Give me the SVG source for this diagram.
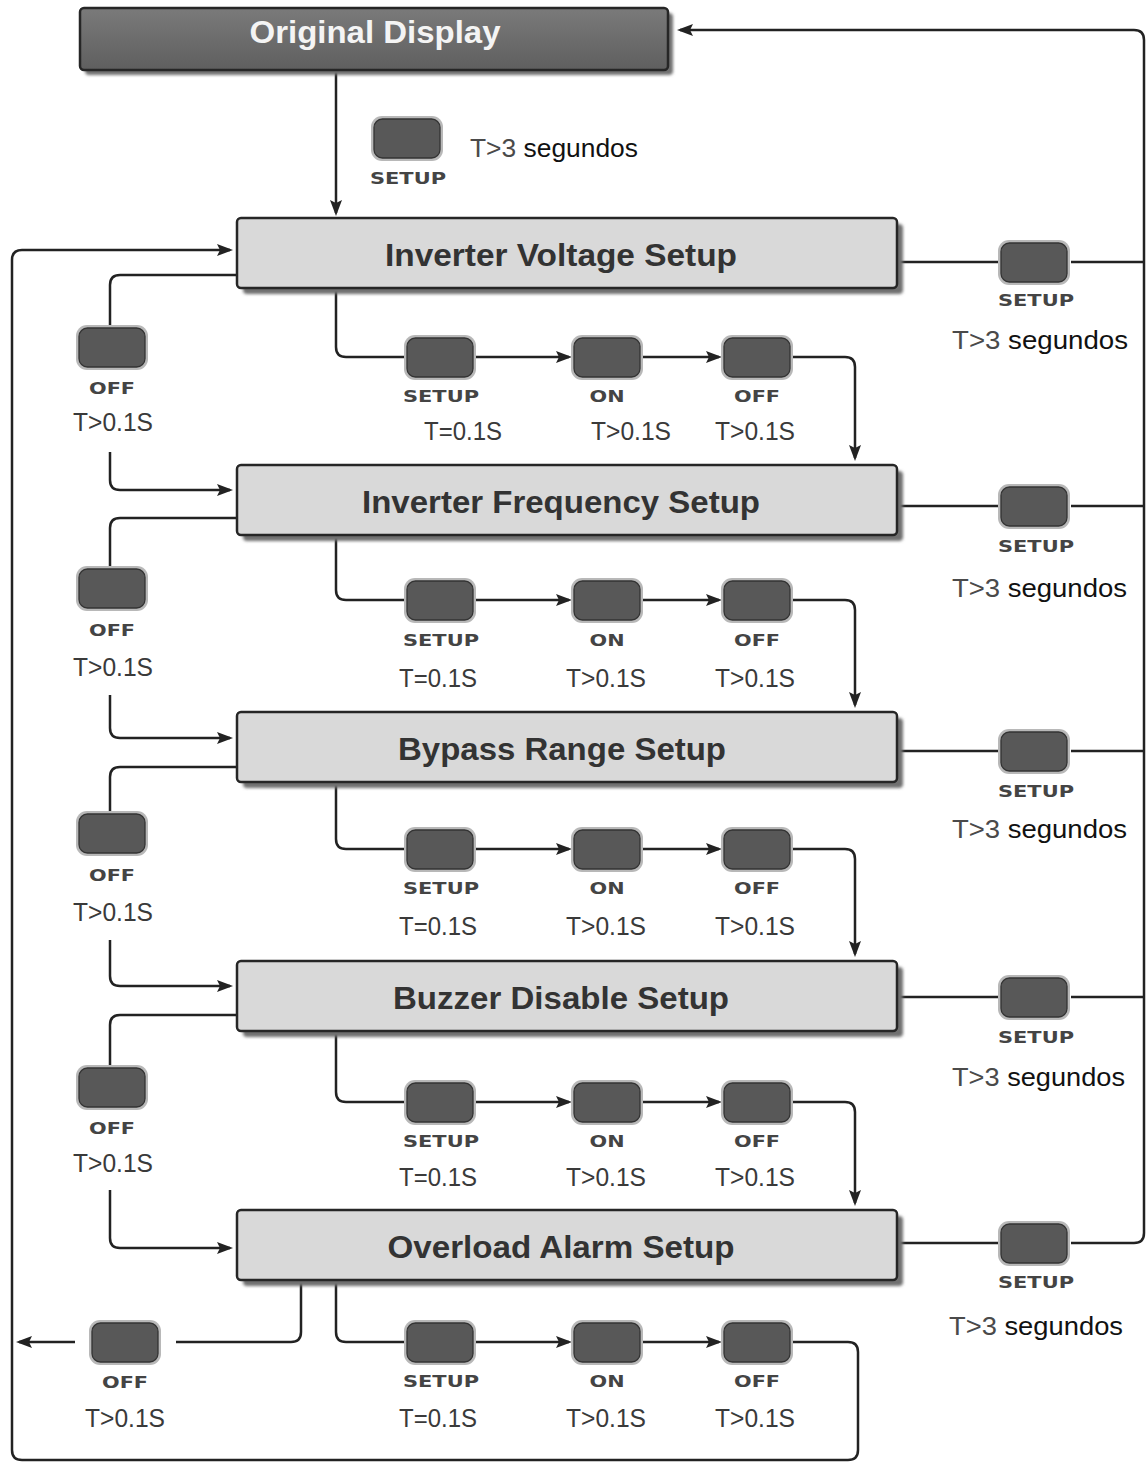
<svg xmlns="http://www.w3.org/2000/svg" xmlns:xlink="http://www.w3.org/1999/xlink" width="1146" height="1463" viewBox="0 0 1146 1463">
<style>
.box{fill:#d9d9d9;stroke:#262626;stroke-width:2.5}
.odbox{fill:url(#odg);stroke:#262626;stroke-width:2.5}
.shadow{fill:#6f6f6f;filter:url(#blur)}
.title{font-family:"Liberation Sans",Arial,sans-serif;font-weight:bold;font-size:32px;fill:#333;text-anchor:middle}
.odtitle{font-family:"Liberation Sans",Arial,sans-serif;font-weight:bold;font-size:32px;fill:#f4f4f4;text-anchor:middle}
.ln{fill:none;stroke:#222;stroke-width:2.5}
.blab{font-family:"DejaVu Sans","Liberation Sans",sans-serif;font-weight:bold;font-size:15px;fill:#444;text-anchor:middle}
.tlab{font-family:"Liberation Sans",Arial,sans-serif;font-size:25px;fill:#3a3a3a;text-anchor:middle}
.seg{font-family:"Liberation Sans",Arial,sans-serif;font-size:26px;fill:#111}
.t3{fill:#4a4a4a}
</style>
<defs>
<linearGradient id="odg" x1="0" y1="0" x2="0" y2="1"><stop offset="0" stop-color="#7a7a7a"/><stop offset="1" stop-color="#5f5f5f"/></linearGradient>
<filter id="blur" x="-5%" y="-20%" width="110%" height="140%"><feGaussianBlur stdDeviation="1.5"/></filter>
<marker id="ah" markerWidth="16" markerHeight="12" refX="13" refY="6" orient="auto" markerUnits="userSpaceOnUse"><path d="M0,0 L16,6 L0,12 L3,6 z" fill="#222"/></marker>
<g id="btn"><rect x="0" y="0" width="72" height="45" rx="11" fill="#b8b8b8"/><rect x="3" y="3" width="66" height="39" rx="8.5" fill="#585858" stroke="#333" stroke-width="1.3"/></g>
</defs>
<rect width="1146" height="1463" fill="#fff"/>

<g id="connectors">
<path class="ln" d="M336 70 V213" marker-end="url(#ah)"/>
<path class="ln" d="M897 262 H998"/><path class="ln" d="M1071 262 H1144"/>
<path class="ln" d="M897 506 H998"/><path class="ln" d="M1071 506 H1144"/>
<path class="ln" d="M897 751 H998"/><path class="ln" d="M1071 751 H1144"/>
<path class="ln" d="M897 997 H998"/><path class="ln" d="M1071 997 H1144"/>
<path class="ln" d="M897 1243 H998"/>
<path class="ln" d="M1071 1243 H1134 Q1144 1243 1144 1233 V40 Q1144 30 1134 30 H680" marker-end="url(#ah)"/>

<path class="ln" d="M336 288 V347 Q336 357 346 357 H404"/>
<path class="ln" d="M476 357 H569" marker-end="url(#ah)"/>
<path class="ln" d="M643 357 H719" marker-end="url(#ah)"/>
<path class="ln" d="M793 357 H845 Q855 357 855 367 V458" marker-end="url(#ah)"/>

<path class="ln" d="M336 535 V590 Q336 600 346 600 H404"/>
<path class="ln" d="M476 600 H569" marker-end="url(#ah)"/>
<path class="ln" d="M643 600 H719" marker-end="url(#ah)"/>
<path class="ln" d="M793 600 H845 Q855 600 855 610 V705" marker-end="url(#ah)"/>

<path class="ln" d="M336 782 V839 Q336 849 346 849 H404"/>
<path class="ln" d="M476 849 H569" marker-end="url(#ah)"/>
<path class="ln" d="M643 849 H719" marker-end="url(#ah)"/>
<path class="ln" d="M793 849 H845 Q855 849 855 859 V954" marker-end="url(#ah)"/>

<path class="ln" d="M336 1031 V1092 Q336 1102 346 1102 H404"/>
<path class="ln" d="M476 1102 H569" marker-end="url(#ah)"/>
<path class="ln" d="M643 1102 H719" marker-end="url(#ah)"/>
<path class="ln" d="M793 1102 H845 Q855 1102 855 1112 V1203" marker-end="url(#ah)"/>

<path class="ln" d="M336 1280 V1332 Q336 1342 346 1342 H404"/>
<path class="ln" d="M476 1342 H569" marker-end="url(#ah)"/>
<path class="ln" d="M643 1342 H719" marker-end="url(#ah)"/>
<path class="ln" d="M793 1342 H848 Q858 1342 858 1352 V1450 Q858 1460 848 1460 H22 Q12 1460 12 1450 V260 Q12 250 22 250 H230" marker-end="url(#ah)"/>

<path class="ln" d="M237 275 H120 Q110 275 110 285 V325"/>
<path class="ln" d="M110 452 V480 Q110 490 120 490 H230" marker-end="url(#ah)"/>
<path class="ln" d="M237 518 H120 Q110 518 110 528 V566"/>
<path class="ln" d="M110 695 V728 Q110 738 120 738 H230" marker-end="url(#ah)"/>
<path class="ln" d="M237 767 H120 Q110 767 110 777 V811"/>
<path class="ln" d="M110 940 V976 Q110 986 120 986 H230" marker-end="url(#ah)"/>
<path class="ln" d="M237 1015 H120 Q110 1015 110 1025 V1065"/>
<path class="ln" d="M110 1190 V1238 Q110 1248 120 1248 H230" marker-end="url(#ah)"/>

<path class="ln" d="M301 1282 V1332 Q301 1342 291 1342 H176"/>
<path class="ln" d="M75 1342 H19" marker-end="url(#ah)"/>
</g>

<g id="original-display">
<rect class="shadow" x="85" y="13" width="588" height="62" rx="4"/>
<rect class="odbox" x="80" y="8" width="588" height="62" rx="4"/>
<text class="odtitle" x="375" y="43" textLength="251" lengthAdjust="spacingAndGlyphs">Original Display</text>
</g>

<g id="setup-enter">
<use xlink:href="#btn" x="371" y="116"/>
<text class="blab" x="408" y="184" textLength="76" lengthAdjust="spacingAndGlyphs">SETUP</text>
<text class="seg" x="470" y="157" textLength="168" lengthAdjust="spacingAndGlyphs"><tspan class="t3">T&gt;3</tspan> segundos</text>
</g>

<g id="inverter-voltage-setup">
<rect class="shadow" x="243" y="224" width="660" height="70" rx="4"/>
<rect class="box" x="237" y="218" width="660" height="70" rx="4"/>
<text class="title" x="561" y="266" textLength="352" lengthAdjust="spacingAndGlyphs">Inverter Voltage Setup</text>
</g>
<g id="inverter-frequency-setup">
<rect class="shadow" x="243" y="471" width="660" height="70" rx="4"/>
<rect class="box" x="237" y="465" width="660" height="70" rx="4"/>
<text class="title" x="561" y="513" textLength="398" lengthAdjust="spacingAndGlyphs">Inverter Frequency Setup</text>
</g>
<g id="bypass-range-setup">
<rect class="shadow" x="243" y="718" width="660" height="70" rx="4"/>
<rect class="box" x="237" y="712" width="660" height="70" rx="4"/>
<text class="title" x="562" y="760" textLength="328" lengthAdjust="spacingAndGlyphs">Bypass Range Setup</text>
</g>
<g id="buzzer-disable-setup">
<rect class="shadow" x="243" y="967" width="660" height="70" rx="4"/>
<rect class="box" x="237" y="961" width="660" height="70" rx="4"/>
<text class="title" x="561" y="1009" textLength="336" lengthAdjust="spacingAndGlyphs">Buzzer Disable Setup</text>
</g>
<g id="overload-alarm-setup">
<rect class="shadow" x="243" y="1216" width="660" height="70" rx="4"/>
<rect class="box" x="237" y="1210" width="660" height="70" rx="4"/>
<text class="title" x="561" y="1258" textLength="347" lengthAdjust="spacingAndGlyphs">Overload Alarm Setup</text>
</g>

<g id="right-setup-1"><use xlink:href="#btn" x="998" y="240"/><text class="blab" x="1036" y="306" textLength="76" lengthAdjust="spacingAndGlyphs">SETUP</text><text class="seg" x="952" y="349" textLength="176" lengthAdjust="spacingAndGlyphs"><tspan class="t3">T&gt;3</tspan> segundos</text></g>
<g id="right-setup-2"><use xlink:href="#btn" x="998" y="484"/><text class="blab" x="1036" y="552" textLength="76" lengthAdjust="spacingAndGlyphs">SETUP</text><text class="seg" x="952" y="597" textLength="175" lengthAdjust="spacingAndGlyphs"><tspan class="t3">T&gt;3</tspan> segundos</text></g>
<g id="right-setup-3"><use xlink:href="#btn" x="998" y="729"/><text class="blab" x="1036" y="797" textLength="76" lengthAdjust="spacingAndGlyphs">SETUP</text><text class="seg" x="952" y="838" textLength="175" lengthAdjust="spacingAndGlyphs"><tspan class="t3">T&gt;3</tspan> segundos</text></g>
<g id="right-setup-4"><use xlink:href="#btn" x="998" y="975"/><text class="blab" x="1036" y="1043" textLength="76" lengthAdjust="spacingAndGlyphs">SETUP</text><text class="seg" x="952" y="1086" textLength="173" lengthAdjust="spacingAndGlyphs"><tspan class="t3">T&gt;3</tspan> segundos</text></g>
<g id="right-setup-5"><use xlink:href="#btn" x="998" y="1221"/><text class="blab" x="1036" y="1288" textLength="76" lengthAdjust="spacingAndGlyphs">SETUP</text><text class="seg" x="949" y="1335" textLength="174" lengthAdjust="spacingAndGlyphs"><tspan class="t3">T&gt;3</tspan> segundos</text></g>

<g id="left-off-1"><use xlink:href="#btn" x="76" y="325"/><text class="blab" x="112" y="394" textLength="46" lengthAdjust="spacingAndGlyphs">OFF</text><text class="tlab" x="113" y="431" textLength="80" lengthAdjust="spacingAndGlyphs">T&gt;0.1S</text></g>
<g id="left-off-2"><use xlink:href="#btn" x="76" y="566"/><text class="blab" x="112" y="636" textLength="46" lengthAdjust="spacingAndGlyphs">OFF</text><text class="tlab" x="113" y="676" textLength="80" lengthAdjust="spacingAndGlyphs">T&gt;0.1S</text></g>
<g id="left-off-3"><use xlink:href="#btn" x="76" y="811"/><text class="blab" x="112" y="881" textLength="46" lengthAdjust="spacingAndGlyphs">OFF</text><text class="tlab" x="113" y="921" textLength="80" lengthAdjust="spacingAndGlyphs">T&gt;0.1S</text></g>
<g id="left-off-4"><use xlink:href="#btn" x="76" y="1065"/><text class="blab" x="112" y="1134" textLength="46" lengthAdjust="spacingAndGlyphs">OFF</text><text class="tlab" x="113" y="1172" textLength="80" lengthAdjust="spacingAndGlyphs">T&gt;0.1S</text></g>
<g id="left-off-5"><use xlink:href="#btn" x="89" y="1320"/><text class="blab" x="125" y="1388" textLength="46" lengthAdjust="spacingAndGlyphs">OFF</text><text class="tlab" x="125" y="1427" textLength="80" lengthAdjust="spacingAndGlyphs">T&gt;0.1S</text></g>

<g id="r1-setup"><use xlink:href="#btn" x="404" y="335"/><text class="blab" x="441" y="402" textLength="76" lengthAdjust="spacingAndGlyphs">SETUP</text><text class="tlab" x="463" y="440" textLength="78" lengthAdjust="spacingAndGlyphs">T=0.1S</text></g>
<g id="r1-on"><use xlink:href="#btn" x="571" y="335"/><text class="blab" x="607" y="402" textLength="35" lengthAdjust="spacingAndGlyphs">ON</text><text class="tlab" x="631" y="440" textLength="80" lengthAdjust="spacingAndGlyphs">T&gt;0.1S</text></g>
<g id="r1-off"><use xlink:href="#btn" x="721" y="335"/><text class="blab" x="757" y="402" textLength="46" lengthAdjust="spacingAndGlyphs">OFF</text><text class="tlab" x="755" y="440" textLength="80" lengthAdjust="spacingAndGlyphs">T&gt;0.1S</text></g>

<g id="r2-setup"><use xlink:href="#btn" x="404" y="578"/><text class="blab" x="441" y="646" textLength="76" lengthAdjust="spacingAndGlyphs">SETUP</text><text class="tlab" x="438" y="687" textLength="78" lengthAdjust="spacingAndGlyphs">T=0.1S</text></g>
<g id="r2-on"><use xlink:href="#btn" x="571" y="578"/><text class="blab" x="607" y="646" textLength="35" lengthAdjust="spacingAndGlyphs">ON</text><text class="tlab" x="606" y="687" textLength="80" lengthAdjust="spacingAndGlyphs">T&gt;0.1S</text></g>
<g id="r2-off"><use xlink:href="#btn" x="721" y="578"/><text class="blab" x="757" y="646" textLength="46" lengthAdjust="spacingAndGlyphs">OFF</text><text class="tlab" x="755" y="687" textLength="80" lengthAdjust="spacingAndGlyphs">T&gt;0.1S</text></g>

<g id="r3-setup"><use xlink:href="#btn" x="404" y="827"/><text class="blab" x="441" y="894" textLength="76" lengthAdjust="spacingAndGlyphs">SETUP</text><text class="tlab" x="438" y="935" textLength="78" lengthAdjust="spacingAndGlyphs">T=0.1S</text></g>
<g id="r3-on"><use xlink:href="#btn" x="571" y="827"/><text class="blab" x="607" y="894" textLength="35" lengthAdjust="spacingAndGlyphs">ON</text><text class="tlab" x="606" y="935" textLength="80" lengthAdjust="spacingAndGlyphs">T&gt;0.1S</text></g>
<g id="r3-off"><use xlink:href="#btn" x="721" y="827"/><text class="blab" x="757" y="894" textLength="46" lengthAdjust="spacingAndGlyphs">OFF</text><text class="tlab" x="755" y="935" textLength="80" lengthAdjust="spacingAndGlyphs">T&gt;0.1S</text></g>

<g id="r4-setup"><use xlink:href="#btn" x="404" y="1080"/><text class="blab" x="441" y="1147" textLength="76" lengthAdjust="spacingAndGlyphs">SETUP</text><text class="tlab" x="438" y="1186" textLength="78" lengthAdjust="spacingAndGlyphs">T=0.1S</text></g>
<g id="r4-on"><use xlink:href="#btn" x="571" y="1080"/><text class="blab" x="607" y="1147" textLength="35" lengthAdjust="spacingAndGlyphs">ON</text><text class="tlab" x="606" y="1186" textLength="80" lengthAdjust="spacingAndGlyphs">T&gt;0.1S</text></g>
<g id="r4-off"><use xlink:href="#btn" x="721" y="1080"/><text class="blab" x="757" y="1147" textLength="46" lengthAdjust="spacingAndGlyphs">OFF</text><text class="tlab" x="755" y="1186" textLength="80" lengthAdjust="spacingAndGlyphs">T&gt;0.1S</text></g>

<g id="r5-setup"><use xlink:href="#btn" x="404" y="1320"/><text class="blab" x="441" y="1387" textLength="76" lengthAdjust="spacingAndGlyphs">SETUP</text><text class="tlab" x="438" y="1427" textLength="78" lengthAdjust="spacingAndGlyphs">T=0.1S</text></g>
<g id="r5-on"><use xlink:href="#btn" x="571" y="1320"/><text class="blab" x="607" y="1387" textLength="35" lengthAdjust="spacingAndGlyphs">ON</text><text class="tlab" x="606" y="1427" textLength="80" lengthAdjust="spacingAndGlyphs">T&gt;0.1S</text></g>
<g id="r5-off"><use xlink:href="#btn" x="721" y="1320"/><text class="blab" x="757" y="1387" textLength="46" lengthAdjust="spacingAndGlyphs">OFF</text><text class="tlab" x="755" y="1427" textLength="80" lengthAdjust="spacingAndGlyphs">T&gt;0.1S</text></g>
</svg>
